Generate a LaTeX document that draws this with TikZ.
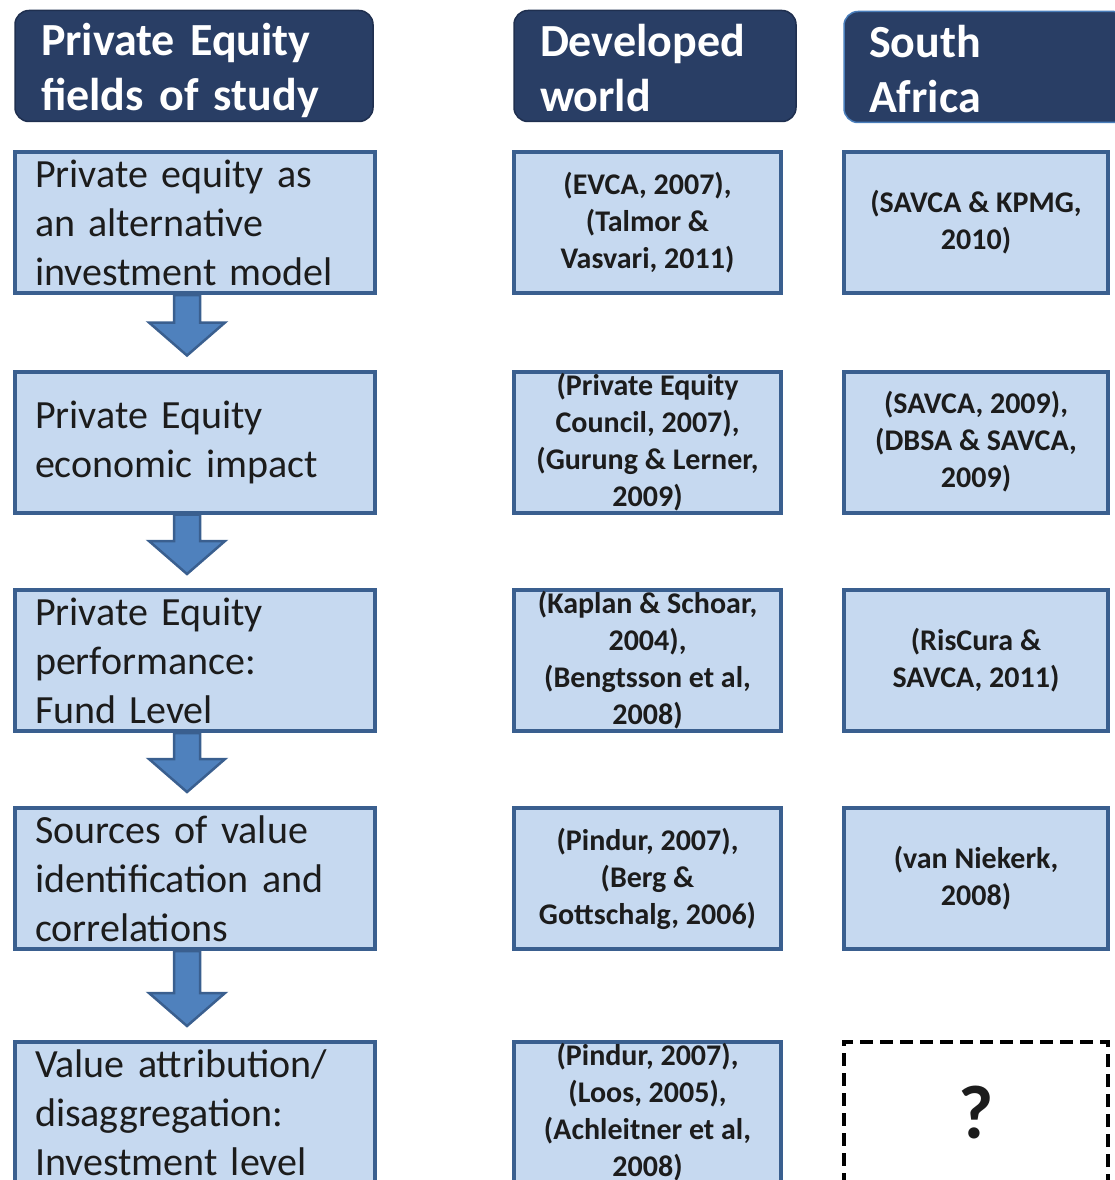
\documentclass[tikz,border=0pt]{standalone}
\usepackage{fontspec}
\setmainfont{Carlito}
\usetikzlibrary{calc}
\definecolor{hdr}{HTML}{293E65}
\definecolor{hdrline}{HTML}{1F2F4F}
\definecolor{saline}{HTML}{4A7EBB}
\definecolor{boxfill}{HTML}{C6D9F0}
\definecolor{boxline}{HTML}{3A5F8F}
\definecolor{arrfill}{HTML}{4F81BD}
\definecolor{arrline}{HTML}{3A5F8F}
\definecolor{txt}{HTML}{1C1C1C}
\newcommand\flowarrow[2]{%
  \path[arrowsty] let \p1=(#1.south), \p2=(#2.north) in
    (\x1-21pt,\y1) -- (\x1+5pt,\y1) -- (\x1+5pt,\y2+47pt) -- (\x1+30pt,\y2+47pt)
    -- (\x1-8pt,\y2+14pt) -- (\x1-46pt,\y2+47pt) -- (\x1-21pt,\y2+47pt) -- cycle;}
\begin{document}
\begin{tikzpicture}[x=1pt,y=-1pt,
  hdrbox/.style={rounded corners=14pt, fill=hdr, draw=hdrline, line width=1.5pt,
    minimum height=111pt},
  hdrtext/.style={text=white, font=\fontsize{46}{55}\selectfont\bfseries, align=left,
    inner sep=0pt},
  fieldbox/.style={fill=boxfill, draw=boxline, line width=4pt,
    minimum width=360pt, minimum height=141pt},
  refbox/.style={fill=boxfill, draw=boxline, line width=4pt, minimum height=141pt},
  midbox/.style={refbox, minimum width=267pt},
  sabox/.style={refbox, minimum width=264pt},
  fieldtext/.style={text=txt, text width=320pt, align=left,
    font=\fontsize{40}{49}\selectfont, inner sep=0pt},
  reftext/.style={text=txt, align=center, font=\fontsize{30}{37}\selectfont\bfseries, inner sep=0pt},
  arrowsty/.style={fill=arrfill, draw=arrline, line width=2.5pt, line join=miter}]
\useasboundingbox (0,0) rectangle (1115,1180);
\clip (0,0) rectangle (1115,1180);

% headers
\node[hdrbox, minimum width=358pt] (h1) at (194,66) {};
\node[hdrbox, minimum width=282pt] (h2) at (655,66) {};
\node[hdrbox, draw=saline, minimum width=284pt] (h3) at (986,67) {};
\node[hdrtext, text width=306pt] (h1t) at ($(h1.center)+(0,4)$) {Private Equity\\fields of study};
\node[hdrtext, text width=230pt] (h2t) at ($(h2.center)+(0,2)$) {Developed\\world};
\node[hdrtext, text width=234pt] (h3t) at ($(h3.center)+(0,2)$) {South\\Africa};

% left column boxes
\node[fieldbox] (l1) at (195,222.5) {};
\node[fieldbox] (l2) at (195,442) {};
\node[fieldbox] (l3) at (195,660.5) {};
\node[fieldbox] (l4) at (195,878.5) {};
\node[fieldbox] (l5) at (195,1112.5) {};

% arrows
\flowarrow{l1}{l2}
\flowarrow{l2}{l3}
\flowarrow{l3}{l4}
\flowarrow{l4}{l5}

\node[fieldtext] (l1t) at (l1.center) {Private equity as\\an alternative\\investment model};
\node[fieldtext] (l2t) at (l2.center) {Private Equity\\economic impact};
\node[fieldtext] (l3t) at (l3.center) {Private Equity\\performance:\\Fund Level};
\node[fieldtext] (l4t) at (l4.center) {Sources of value\\identification and\\correlations};
\node[fieldtext] (l5t) at (l5.center) {Value attribution/\\disaggregation:\\Investment level};

% developed world column
\node[midbox] (m1) at (647.5,222.5) {};
\node[midbox] (m2) at (647.5,442) {};
\node[midbox] (m3) at (647.5,660.5) {};
\node[midbox] (m4) at (647.5,878.5) {};
\node[midbox] (m5) at (647.5,1112.5) {};
\node[reftext] (m1t) at (m1.center) {(EVCA, 2007),\\(Talmor \&\\Vasvari, 2011)};
\node[reftext] (m2t) at (m2.center) {(Private Equity\\Council, 2007),\\(Gurung \& Lerner,\\2009)};
\node[reftext] (m3t) at (m3.center) {(Kaplan \& Schoar,\\2004),\\(Bengtsson et al,\\2008)};
\node[reftext] (m4t) at (m4.center) {(Pindur, 2007),\\(Berg \&\\Gottschalg, 2006)};
\node[reftext] (m5t) at (m5.center) {(Pindur, 2007),\\(Loos, 2005),\\(Achleitner et al,\\2008)};

% South Africa column
\node[sabox] (s1) at (976,222.5) {};
\node[sabox] (s2) at (976,442) {};
\node[sabox] (s3) at (976,660.5) {};
\node[sabox] (s4) at (976,878.5) {};
\node[draw=black, line width=3.5pt, dash pattern=on 13pt off 7pt,
  minimum width=264pt, minimum height=141pt] (s5) at (976,1112.5) {};
\node[reftext] (s1t) at (s1.center) {(SAVCA \& KPMG,\\2010)};
\node[reftext] (s2t) at (s2.center) {(SAVCA, 2009),\\(DBSA \& SAVCA,\\2009)};
\node[reftext] (s3t) at (s3.center) {(RisCura \&\\SAVCA, 2011)};
\node[reftext] (s4t) at (s4.center) {(van Niekerk,\\2008)};
\node[text=txt, font=\fontsize{76}{80}\selectfont\bfseries, inner sep=0pt] (s5t) at (s5.center) {?};
\end{tikzpicture}
\end{document}
